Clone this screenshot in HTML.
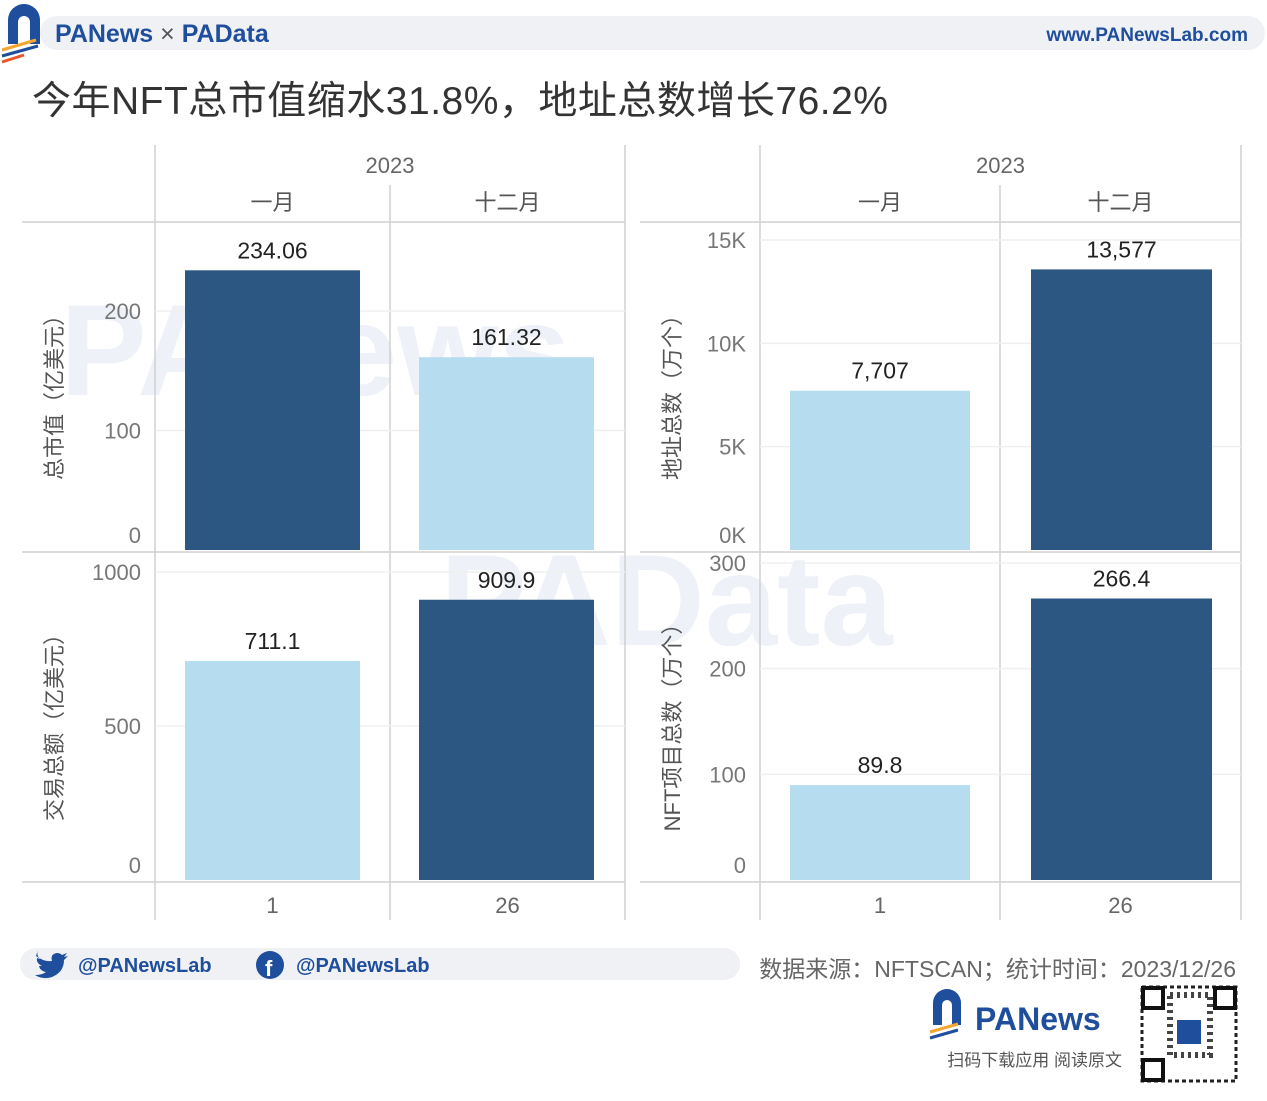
<!DOCTYPE html>
<html><head><meta charset="utf-8">
<style>
body{margin:0;background:#fff;width:1267px;height:1096px;overflow:hidden;font-family:"Liberation Sans","Noto Sans CJK SC",sans-serif;}
svg text{font-family:"Liberation Sans","Noto Sans CJK SC",sans-serif;}
</style></head>
<body>
<svg id="c" width="1267" height="1096" xmlns="http://www.w3.org/2000/svg">
  <rect x="40" y="16" width="1225" height="34" rx="17" fill="#f0f1f5"/>
  <g>
    <path d="M8 44 V20 a16 16 0 0 1 32 0 V44 H30 V22 a6 6 0 0 0 -12 0 V44 Z" fill="#1f4e9c"/>
    <line x1="2" y1="50" x2="36" y2="40" stroke="#f3a531" stroke-width="3"/>
    <line x1="2" y1="56" x2="38" y2="46" stroke="#1f4e9c" stroke-width="3"/>
    <line x1="2" y1="62" x2="24" y2="55" stroke="#e8562a" stroke-width="3"/>
  </g>
  <text x="55" y="42" font-size="25" font-weight="bold" fill="#1f4e9c">PANews <tspan fill="#555" font-weight="normal">×</tspan> PAData</text>
  <text x="1248" y="41" font-size="19" font-weight="bold" fill="#1f4e9c" text-anchor="end">www.PANewsLab.com</text>
  <text x="32" y="114" font-size="39" letter-spacing="0.5" fill="#333">今年NFT总市值缩水31.8%，地址总数增长76.2%</text>
  <text x="60" y="395" font-size="130" font-weight="bold" fill="#eef2f8">PANews</text>
  <text x="440" y="645" font-size="130" font-weight="bold" fill="#eef2f8">PAData</text>
  <g id="plots"></g>
  <rect x="20" y="948" width="720" height="32" rx="16" fill="#f0f1f5"/>
  <path d="M36 956 q8 6 16 5 q-2 -7 5 -8 q3 0 5 2 l5 -2 l-3 4 l4 -1 l-4 4 q0 12 -12 17 q-9 3 -17 -2 q7 0 11 -3 q-6 -1 -7 -6 l3 0 q-6 -3 -5 -8 l3 1 q-4 -4 -2 -9 Z" fill="#1f4e9c"/>
  <text x="78" y="972" font-size="20" font-weight="bold" fill="#1f4e9c">@PANewsLab</text>
  <circle cx="270" cy="965" r="14" fill="#1f4e9c"/>
  <text x="265" y="976" font-size="22" font-weight="bold" fill="#fff">f</text>
  <text x="296" y="972" font-size="20" font-weight="bold" fill="#1f4e9c">@PANewsLab</text>
  <text x="1236" y="977" font-size="23" fill="#666" text-anchor="end">数据来源：NFTSCAN；统计时间：2023/12/26</text>
  <g>
    <path d="M933 1025 V1003 a14 14 0 0 1 28 0 V1025 H952 V1005 a5 5 0 0 0 -10 0 V1025 Z" fill="#1f4e9c"/>
    <line x1="930" y1="1032" x2="958" y2="1024" stroke="#f3a531" stroke-width="3"/>
    <line x1="930" y1="1038" x2="958" y2="1030" stroke="#1f4e9c" stroke-width="3"/>
  </g>
  <text x="975" y="1030" font-size="32" font-weight="bold" fill="#1f4e9c">PANews</text>
  <text x="1122" y="1066" font-size="17" fill="#555" text-anchor="end">扫码下载应用 阅读原文</text>
  <g>
    <rect x="1140" y="985" width="98" height="98" fill="#fff"/>
    <rect x="1142" y="987" width="94" height="94" fill="none" stroke="#222" stroke-width="3" stroke-dasharray="4 3"/>
    <rect x="1143" y="988" width="20" height="20" fill="none" stroke="#111" stroke-width="4"/>
    <rect x="1215" y="988" width="20" height="20" fill="none" stroke="#111" stroke-width="4"/>
    <rect x="1143" y="1060" width="20" height="20" fill="none" stroke="#111" stroke-width="4"/>
    <rect x="1170" y="995" width="40" height="60" fill="none" stroke="#444" stroke-width="6" stroke-dasharray="3 4"/>
    <rect x="1177" y="1020" width="24" height="24" fill="#1f4e9c"/>
  </g>
</svg>
<script>
const months = ["一月","十二月"];
const xLabels = ["1","26"];
const mcapValues = [234.06, 161.32];
const volumeValues = [711.1, 909.9];
const addrValues = [7707, 13577];
const projValues = [89.8, 266.4];
const mcapTicks = [0,100,200];
const volumeTicks = [0,500,1000];
const addrTicks = [0,5000,10000,15000];
const addrTickLabels = ["0K","5K","10K","15K"];
const projTicks = [0,100,200,300];
const DARK="#2b5782", LIGHT="#b5dcef";
const NS="http://www.w3.org/2000/svg";
const g=document.getElementById('plots');
function el(tag,attrs,text){const e=document.createElementNS(NS,tag);for(const k in attrs)e.setAttribute(k,attrs[k]);if(text!==undefined)e.textContent=text;g.appendChild(e);return e;}
function line(x1,y1,x2,y2,c,w){return el('line',{x1,y1,x2,y2,stroke:c||'#d0d0d0','stroke-width':w||1.5});}

function panel(P){
  line(P.yAxisX,145,P.yAxisX,222);line(P.right,145,P.right,222);line(P.col1,185,P.col1,222);
  let t=el('text',{x:(P.yAxisX+P.right)/2,y:173,'font-size':22,fill:'#666','text-anchor':'middle'},'2023');
  
  
  months.forEach((m,i)=>{
    const cx=i===0?(P.yAxisX+P.col1)/2:(P.col1+P.right)/2;
    const mt=el('text',{x:cx,y:210,'font-size':22,fill:'#555','text-anchor':'middle'},m);
    
    
    const xt=el('text',{x:cx,y:913,'font-size':22,fill:'#666','text-anchor':'middle'},xLabels[i]);
    
    
  });
  line(P.left,222,P.right,222);line(P.left,552,P.right,552);line(P.left,882,P.right,882);
  [P.yAxisX,P.col1,P.right].forEach(x=>{line(x,222,x,882);line(x,882,x,920);});
}
function chart(P,top,base,max,vals,ticks,tlabels,fmt,title,bars,tcy){
  const y=v=>base-(v/max)*(base-top);
  ticks.forEach((tk,i)=>{
    const yy=y(tk);
    if(tk>0){const gl=line(P.yAxisX,yy,P.right,yy,'#efefef',1.5);}
    const ly=tk===0?base-7:Math.max(yy+8,top+8);
    const tl=el('text',{x:P.yAxisX-14,y:ly,'font-size':22,fill:'#777','text-anchor':'end'},tlabels?tlabels[i]:String(tk));
    
    
  });
  const at=el('text',{transform:`translate(${P.titleX},${tcy}) rotate(-90)`,'font-size':22,fill:'#555','text-anchor':'middle'},title);
  
  
  vals.forEach((v,i)=>{
    const bx=bars[i];
    const r=el('rect',{x:bx[0],y:y(v),width:bx[1]-bx[0],height:base-y(v),fill:v===Math.max(...vals)?DARK:LIGHT});
    
    
    const vt=el('text',{x:(bx[0]+bx[1])/2,y:y(v)-12,'font-size':23,fill:'#222','text-anchor':'middle'},fmt(v));
    
    
  });
}
const L={left:22,yAxisX:155,col1:390,right:625,titleX:62};
const R={left:640,yAxisX:760,col1:1000,right:1241,titleX:680};
panel(L);panel(R);
const lb=[[185,360],[419,594]], rb=[[790,970],[1031,1212]];
chart(L,311,550,200,mcapValues,mcapTicks,null,v=>v.toFixed(2),"总市值（亿美元）",lb,392);
chart(L,572,880,1000,volumeValues,volumeTicks,null,v=>v.toFixed(1),"交易总额（亿美元）",lb,722);
chart(R,240,550,15000,addrValues,addrTicks,addrTickLabels,v=>v.toLocaleString('en-US'),"地址总数（万个）",rb,392);
chart(R,563,880,300,projValues,projTicks,null,v=>v.toFixed(1),"NFT项目总数（万个）",rb,722);
</script>
</body></html>
